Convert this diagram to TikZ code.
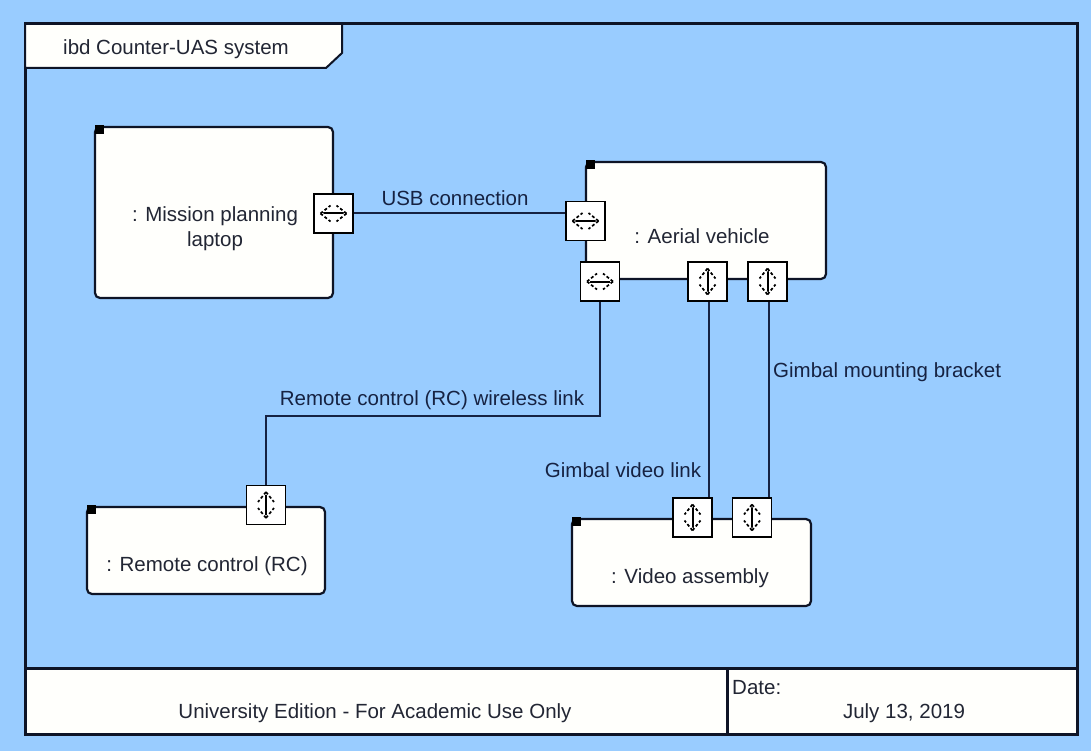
\documentclass[tikz,border=0pt]{standalone}
\usepackage{fontspec}
\setmainfont{Liberation Sans}
\definecolor{sky}{RGB}{153,204,255}
\definecolor{ink}{RGB}{14,20,38}
\definecolor{wire}{RGB}{22,34,66}
\definecolor{txt}{RGB}{34,38,52}
\definecolor{paper}{RGB}{255,255,252}
\tikzset{
  frameline/.style={draw=ink, line width=3pt},
  part/.style={draw=ink, line width=2.2pt, fill=paper, rounded corners=5pt,
    inner sep=0pt, rectangle},
  partname/.style={inner sep=0pt, text=txt, align=center},
  wirelbl/.style={inner sep=0pt, text=wire},
  conn/.style={draw=wire, line width=2pt},
  portbox/.style={draw=black, line width=1.5pt, fill=white, rectangle,
    minimum size=39pt, inner sep=0pt},
  symdash/.style={line width=1.7pt, dash pattern=on 3pt off 2.2pt},
  hport/.style={portbox, path picture={
    \coordinate (pc) at (path picture bounding box.center);
    \draw[line width=2pt] ([xshift=-13pt]pc) -- ([xshift=13pt]pc);
    \fill ([xshift=-13pt]pc) circle (3pt) ([xshift=13pt]pc) circle (3pt);
    \draw[symdash] ([xshift=-13pt]pc) -- ([xshift=-3pt,yshift=8pt]pc);
    \draw[symdash] ([xshift=-13pt]pc) -- ([xshift=-3pt,yshift=-8pt]pc);
    \draw[symdash] ([xshift=13pt]pc) -- ([xshift=3pt,yshift=8pt]pc);
    \draw[symdash] ([xshift=13pt]pc) -- ([xshift=3pt,yshift=-8pt]pc);
  }},
  vport/.style={portbox, path picture={
    \coordinate (pc) at (path picture bounding box.center);
    \draw[line width=2pt] ([yshift=-13pt]pc) -- ([yshift=13pt]pc);
    \fill ([yshift=-13pt]pc) circle (3pt) ([yshift=13pt]pc) circle (3pt);
    \draw[symdash] ([yshift=-13pt]pc) -- ([yshift=-3pt,xshift=8pt]pc);
    \draw[symdash] ([yshift=-13pt]pc) -- ([yshift=-3pt,xshift=-8pt]pc);
    \draw[symdash] ([yshift=13pt]pc) -- ([yshift=3pt,xshift=8pt]pc);
    \draw[symdash] ([yshift=13pt]pc) -- ([yshift=3pt,xshift=-8pt]pc);
  }},
}
\newcommand{\partmark}[1]{\fill[black] (#1.north west) ++(1pt,1pt) rectangle ++(9,9);}
\begin{document}
\begin{tikzpicture}[x=1pt,y=-1pt,font=\fontsize{20.5}{25}\selectfont]
  \useasboundingbox (0,0) rectangle (1091,751);
  \fill[sky] (0,0) rectangle (1091,751);

  % diagram frame
  \draw[frameline] (25,24) rectangle (1077,734);
  \draw[frameline, fill=paper] (25,668) rectangle (1077,734);
  \draw[frameline] (727,668) -- (727,734);
  \node[wirelbl, text=txt] (edition) at (375,713) {University Edition - For Academic Use Only};
  \node[wirelbl, text=txt, anchor=west] (datelbl) at (732,688) {Date:};
  \node[wirelbl, text=txt] (date) at (904,713) {July 13, 2019};

  % name tab
  \draw[draw=ink, line width=2pt, fill=paper] (25,24) -- (342,24) -- (342,53) -- (326,68) -- (25,68) -- cycle;
  \draw[frameline] (25,24) -- (342,24);
  \node[wirelbl, text=txt, anchor=west] (title) at (63,49) {ibd Counter-UAS system};

  % parts
  \node[part, minimum width=238pt, minimum height=171pt] (laptop) at (214,212.5) {};
  \node[part, minimum width=240pt, minimum height=117pt] (aerial) at (706,220.5) {};
  \node[part, minimum width=238pt, minimum height=87pt] (rc) at (206,550.5) {};
  \node[part, minimum width=239pt, minimum height=87pt] (video) at (691.5,562.5) {};
  \partmark{laptop} \partmark{aerial} \partmark{rc} \partmark{video}

  \node[partname] (laptopname) at (215,229) {: Mission planning\\laptop};
  \node[partname] (aerialname) at (702,236) {: Aerial vehicle};
  \node[partname] (rcname) at (207,566) {: Remote control (RC)};
  \node[partname] (videoname) at (690,578) {: Video assembly};

  % ports
  \node[hport] (lport) at (333.5,213.5) {};
  \node[hport] (aport1) at (585.5,221) {};
  \node[hport] (aport2) at (600,281.5) {};
  \node[vport] (aport3) at (707.5,281.5) {};
  \node[vport] (aport4) at (767.5,281.5) {};
  \node[vport] (rcport) at (266,505) {};
  \node[vport] (vport1) at (692.5,517.5) {};
  \node[vport] (vport2) at (752,517.5) {};

  % connectors
  \coordinate (rcbend) at (266,416);
  \draw[conn] (lport.east) -- (lport.east -| aport1.west);
  \draw[conn] (aport2.south) |- (rcbend) -- (rcport.north);
  \draw[conn] ([xshift=1pt]aport3.south) -- ([xshift=1pt]aport3.south |- vport1.north);
  \draw[conn] ([xshift=1pt]aport4.south) -- ([xshift=1pt]aport4.south |- vport2.north);

  \node[wirelbl] (usblbl) at (455,198) {USB connection};
  \node[wirelbl] (rclbl) at (432,400) {Remote control (RC) wireless link};
  \node[wirelbl] (videolbl) at (623,470) {Gimbal video link};
  \node[wirelbl, anchor=west] (bracketlbl) at (773,372) {Gimbal mounting bracket};
\end{tikzpicture}
\end{document}
